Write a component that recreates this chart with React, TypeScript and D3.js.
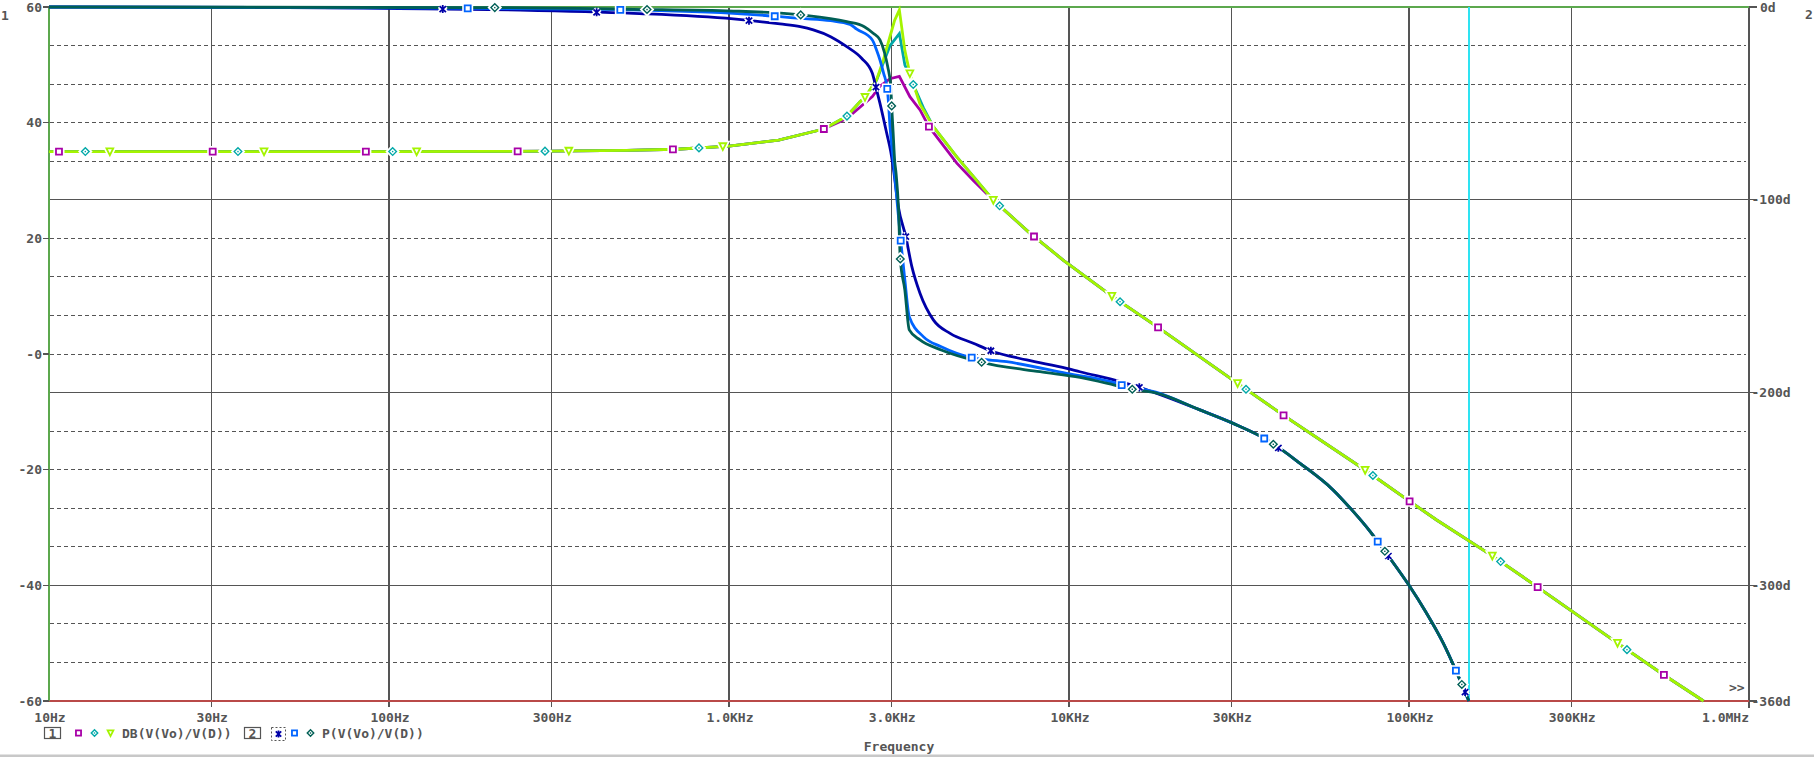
import React from 'react';
import * as d3 from 'd3';

type Pt = [number, number];

// ---------- axis ticks ----------
const freqTicks = [10, 30, 100, 300, 1e3, 3e3, 1e4, 3e4, 1e5, 3e5, 1e6];
const freqTickLabels = ['10Hz', '30Hz', '100Hz', '300Hz', '1.0KHz', '3.0KHz', '10KHz', '30KHz', '100KHz', '300KHz', '1.0MHz'];
const dbTicks = [60, 40, 20, 0, -20, -40, -60];
const dbTickLabels = ['60', '40', '20', '-0', '-20', '-40', '-60'];
const phaseTicks = [0, -100, -200, -300, -360];
const phaseTickLabels = ['0d', '-100d', '-200d', '-300d', '-360d'];
const phaseSolidGrid = [-100, -200, -300];
const phaseDashedGrid = [-20, -40, -60, -80, -120, -140, -160, -180, -220, -240, -260, -280, -320, -340];
const cursorFreq = 150000;

// ---------- DB traces (left axis) ----------
const dbLow: Pt[] = [[10, 35.0], [100, 35.0], [200, 35.03], [300, 35.08], [500, 35.2], [700, 35.4], [1000, 35.95], [1400, 37.0], [1900, 38.9]];
const dbPeakMagenta: Pt[] = [[2220, 40.7], [2375, 42.2], [2640, 44.5], [2780, 46.3], [2975, 47.6], [3170, 48.0], [3404, 44.5], [3646, 42.2], [3873, 39.3], [4677, 33.0], [5230, 30.0]];
const dbPeakCyan: Pt[] = [[2220, 41.1], [2427, 43.6], [2512, 44.4], [2716, 47.3], [2843, 50.3], [2975, 53.3], [3170, 55.4], [3290, 50.0], [3483, 46.6], [3728, 42.6], [3990, 39.3], [4677, 34.1], [5230, 30.7]];
const dbPeakGreen: Pt[] = [[2220, 41.1], [2427, 43.6], [2512, 44.4], [2716, 47.4], [2843, 50.8], [2975, 54.9], [3070, 57.7], [3170, 59.5], [3290, 52.5], [3404, 48.5], [3646, 43.2], [3990, 39.3], [4677, 34.1], [5230, 30.7]];
const dbHigh: Pt[] = [[5990, 26.6], [7670, 20.9], [9610, 16.25], [13370, 10.0], [18280, 4.6], [31320, -5.07], [42760, -10.6], [74300, -20.06], [100000, -25.4], [120600, -28.7], [175800, -34.9], [227000, -39.4], [410500, -50.0], [562000, -55.5], [735000, -60.0]];

// ---------- Phase traces (right axis) ----------
const phDarkBlue: Pt[] = [[10, 0], [50, -0.3], [107, -0.8], [243, -1.6], [524, -3.3], [1030, -6.2], [1413, -8.8], [1620, -10.2], [1770, -11.9], [1990, -15.4], [2220, -20.6], [2455, -26.6], [2640, -34.4], [2705, -41.6], [2780, -50], [2910, -65.5], [2990, -75], [3040, -83], [3148, -103.6], [3311, -119.1], [3450, -134.7], [3645, -148.5], [3990, -162.3], [4470, -169.3], [5230, -174.4], [5890, -178.3], [7510, -183.1], [9840, -187.4], [10770, -189.2], [14130, -194.3], [16100, -197.3]];
const phBlue: Pt[] = [[10, 0], [97, -0.4], [417, -1.2], [1030, -3.3], [1413, -5.0], [1620, -5.9], [1990, -7.1], [2270, -9.0], [2375, -11.5], [2640, -17.1], [2716, -22.3], [2780, -27.5], [2850, -34.4], [2921, -42.5], [2941, -48.2], [2975, -62], [3040, -79], [3100, -95], [3199, -121.2], [3290, -141.6], [3390, -160.6], [3728, -171], [4210, -176.2], [5175, -181.9], [6555, -184], [9840, -190], [13800, -195.2], [14290, -196.1], [18000, -199.8]];
const phTeal: Pt[] = [[10, 0], [200, -0.3], [524, -1.2], [1030, -2.1], [1625, -4.1], [2220, -7.6], [2500, -10.2], [2655, -13.6], [2780, -17.1], [2870, -24], [2930, -31], [2990, -41.3], [3009, -51.3], [3040, -65.5], [3070, -79.4], [3100, -86.3], [3150, -103.6], [3190, -130.7], [3290, -146.8], [3390, -167.5], [3645, -172.7], [4210, -177.9], [5533, -184.3], [8220, -189.2], [10770, -192.1], [13600, -196.1], [15350, -198.3], [18000, -200.2]];
const phTail: Pt[] = [[24270, -209], [30400, -216], [38300, -224.6], [47800, -236.7], [59800, -250.5], [67600, -260.5], [76800, -272], [87100, -285], [100000, -300], [112200, -314], [126100, -330], [138000, -345], [150000, -360]];

// ---------- marker frequencies ----------
const mkMagenta = [10.7, 30.3, 85.5, 239, 684, 1901, 3873, 7890, 18280, 42760, 100400, 239000, 562000];
const mkCyan = [12.79, 35.96, 102.5, 287.6, 816, 2223, 3483, 6250, 14130, 33160, 78300, 186000, 437600];
const mkGreen = [15.1, 42.9, 120.6, 338, 959, 2512, 3404, 5990, 13370, 31320, 74300, 175800, 410500];
const mkDarkBlue = [143.9, 408, 1145, 2705, 3311, 5890, 16100, 41270, 86900, 146200];
const mkBlue = [170.4, 479, 1363, 2921, 3199, 5174, 14290, 37520, 80900, 137400];
const mkTeal = [204.7, 574, 1625, 3009, 3190, 5533, 15350, 39900, 84900, 143000];

// ---------- styles ----------
const W = 1814;
const H = 757;
const FONT = "'DejaVu Sans Mono', monospace";
const TXT = '#555555';
const GRID = '#555555';
const C_MAG = '#a800a8';
const C_CYAN = '#00a8a8';
const C_GREEN = '#a4f400';
const C_DBLUE = '#0000a8';
const C_BLUE = '#0064ff';
const C_TEAL = '#005f55';

const x = d3.scaleLog().domain([10, 1e6]).range([49, 1749]);
const yDb = d3.scaleLinear().domain([-60, 60]).range([701, 7]);
const yPh = d3.scaleLinear().domain([-360, 0]).range([701, 7]);

function valueAt(data: Pt[], f: number): number {
  const lf = Math.log10(f);
  for (let i = 0; i < data.length - 1; i++) {
    const a = Math.log10(data[i][0]);
    const b = Math.log10(data[i + 1][0]);
    if (lf >= a && lf <= b) {
      const t = (lf - a) / (b - a);
      return data[i][1] + t * (data[i + 1][1] - data[i][1]);
    }
  }
  return lf < Math.log10(data[0][0]) ? data[0][1] : data[data.length - 1][1];
}

type Kind = 'square' | 'diamond' | 'tri' | 'star';

function markerPath(kind: Kind, s: number): string {
  if (kind === 'square') return `M${-3 * s},${-3 * s}H${3 * s}V${3 * s}H${-3 * s}Z`;
  if (kind === 'diamond') return `M0,${-3.8 * s}L${3.8 * s},0L0,${3.8 * s}L${-3.8 * s},0Z`;
  if (kind === 'tri') return `M${-3.4 * s},${-3.2 * s}L${3.4 * s},${-3.2 * s}L0,${3.6 * s}Z`;
  return `M0,${-4 * s}V${4 * s}M${-3.2 * s},${-3 * s}L${3.2 * s},${3 * s}M${3.2 * s},${-3 * s}L${-3.2 * s},${3 * s}`;
}

function Marker({ kind, cx, cy, color, s = 1 }: { kind: Kind; cx: number; cy: number; color: string; s?: number }) {
  const d = markerPath(kind, s);
  const sw = kind === 'diamond' ? 1.4 : 1.8;
  return (
    <g transform={`translate(${cx},${cy})`}>
      <path d={d} fill="white" stroke="white" strokeWidth={5} />
      <path d={d} fill={kind === 'star' ? 'none' : 'white'} stroke={color} strokeWidth={sw} />
      {kind === 'diamond' && <rect x={-0.7} y={-0.7} width={1.4} height={1.4} fill={color} />}
    </g>
  );
}

interface Trace { data: Pt[]; color: string; kind: Kind; markers: number[]; axis: 'db' | 'ph' }

const traces: Trace[] = [
  { data: [...dbLow, ...dbPeakMagenta, ...dbHigh], color: C_MAG, kind: 'square', markers: mkMagenta, axis: 'db' },
  { data: [...dbLow, ...dbPeakCyan, ...dbHigh], color: C_CYAN, kind: 'diamond', markers: mkCyan, axis: 'db' },
  { data: [...dbLow, ...dbPeakGreen, ...dbHigh], color: C_GREEN, kind: 'tri', markers: mkGreen, axis: 'db' },
  { data: [...phDarkBlue, ...phTail], color: C_DBLUE, kind: 'star', markers: mkDarkBlue, axis: 'ph' },
  { data: [...phBlue, ...phTail], color: C_BLUE, kind: 'square', markers: mkBlue, axis: 'ph' },
  { data: [...phTeal, ...phTail], color: C_TEAL, kind: 'diamond', markers: mkTeal, axis: 'ph' },
];

export default function App() {
  const textStyle = { fontFamily: FONT, fontWeight: 700 as const, fontSize: 13, fill: TXT };
  return (
    <svg width={W} height={H} viewBox={`0 0 ${W} ${H}`} style={{ position: 'absolute', left: 0, top: 0, display: 'block', background: 'white' }}>
      <rect x={0} y={0} width={W} height={H} fill="white" />
      {/* horizontal grid */}
      {phaseDashedGrid.map((v) => (
        <line key={'hd' + v} x1={50} x2={1746} y1={yPh(v)} y2={yPh(v)} stroke={GRID} strokeWidth={1} strokeDasharray="4,3" shapeRendering="crispEdges" />
      ))}
      {phaseSolidGrid.map((v) => (
        <line key={'hs' + v} x1={49} x2={1749} y1={yPh(v)} y2={yPh(v)} stroke={GRID} strokeWidth={1.3} shapeRendering="crispEdges" />
      ))}
      {/* vertical grid */}
      {freqTicks.slice(1, -1).map((f) => (
        <line key={'v' + f} x1={x(f)} x2={x(f)} y1={8} y2={707} stroke={GRID} strokeWidth={1.3} shapeRendering="crispEdges" />
      ))}
      {/* axes */}
      <line x1={1749} x2={1749} y1={7} y2={708} stroke={GRID} strokeWidth={1.3} shapeRendering="crispEdges" />
      <line x1={49} x2={1749} y1={701} y2={701} stroke="#b94a48" strokeWidth={1.5} shapeRendering="crispEdges" />
      <line x1={49} x2={1749} y1={7} y2={7} stroke="#5ca84e" strokeWidth={1.5} shapeRendering="crispEdges" />
      <line x1={49} x2={49} y1={7} y2={701} stroke="#5ca84e" strokeWidth={1.5} shapeRendering="crispEdges" />
      {/* cursor */}
      <line x1={x(cursorFreq)} x2={x(cursorFreq)} y1={7} y2={701} stroke="#2ee3f2" strokeWidth={1.3} shapeRendering="crispEdges" />

      {/* left axis ticks & labels */}
      {dbTicks.map((v, i) => (
        <g key={'lt' + v}>
          <line x1={43} x2={49} y1={yDb(v)} y2={yDb(v)} stroke={GRID} strokeWidth={1.3} shapeRendering="crispEdges" />
          <text x={42} y={yDb(v) + 4.6} textAnchor="end" style={textStyle}>{dbTickLabels[i]}</text>
        </g>
      ))}
      {/* right axis ticks & labels */}
      {phaseTicks.map((v, i) => (
        <g key={'rt' + v}>
          <line x1={1749} x2={1757} y1={yPh(v)} y2={yPh(v)} stroke={GRID} strokeWidth={1.3} shapeRendering="crispEdges" />
          <text x={phaseTickLabels[i].startsWith('-') ? 1751.5 : 1760} y={yPh(v) + 4.6} textAnchor="start" style={textStyle}>{phaseTickLabels[i]}</text>
        </g>
      ))}
      {/* x tick labels */}
      {freqTicks.map((f, i) => (
        <text key={'xt' + f} x={i === freqTicks.length - 1 ? 1749 : x(f) + 1} y={722} textAnchor={i === freqTicks.length - 1 ? 'end' : 'middle'} style={textStyle}>{freqTickLabels[i]}</text>
      ))}
      <text x={899} y={751} textAnchor="middle" style={textStyle}>Frequency</text>
      <text x={5} y={20} textAnchor="middle" style={textStyle}>1</text>
      <text x={1809} y={19} textAnchor="middle" style={textStyle}>2</text>
      <text x={1729} y={692} style={textStyle}>{'>>'}</text>

      {/* traces */}
      {traces.map((t, i) => {
        const y = t.axis === 'db' ? yDb : yPh;
        const gen = d3.line<Pt>().x((d) => x(d[0])).y((d) => y(d[1]))
          .curve(t.axis === 'ph' ? d3.curveMonotoneX : d3.curveLinear);
        return <path key={'tr' + i} d={gen(t.data) || ''} fill="none" stroke={t.color} strokeWidth={2.8} strokeLinejoin="miter" strokeMiterlimit={10} />;
      })}
      {/* markers */}
      {traces.map((t, i) => {
        const y = t.axis === 'db' ? yDb : yPh;
        return (
          <g key={'mk' + i}>
            {t.markers.map((f) => (
              <Marker key={f} kind={t.kind} cx={x(f)} cy={y(valueAt(t.data, f))} color={t.color} />
            ))}
          </g>
        );
      })}

      {/* legend */}
      <rect x={44.5} y={727.5} width={16} height={11} fill="none" stroke={TXT} strokeWidth={1.2} />
      <text x={52.5} y={737.5} textAnchor="middle" style={textStyle}>1</text>
      <Marker kind="square" cx={78.5} cy={733} color={C_MAG} s={0.85} />
      <Marker kind="diamond" cx={94.5} cy={733} color={C_CYAN} s={0.85} />
      <Marker kind="tri" cx={110.5} cy={733} color={C_GREEN} s={0.85} />
      <text x={122} y={738} style={textStyle}>DB(V(Vo)/V(D))</text>
      <rect x={244.5} y={727.5} width={16} height={11} fill="none" stroke={TXT} strokeWidth={1.2} />
      <text x={252.5} y={737.5} textAnchor="middle" style={textStyle}>2</text>
      <rect x={271.5} y={727.5} width={14} height={13} fill="none" stroke={TXT} strokeWidth={1} strokeDasharray="2,2" />
      <Marker kind="star" cx={278.5} cy={734} color={C_DBLUE} s={0.85} />
      <Marker kind="square" cx={294.5} cy={733} color={C_BLUE} s={0.85} />
      <Marker kind="diamond" cx={310.5} cy={733} color={C_TEAL} s={0.85} />
      <text x={322} y={738} style={textStyle}>P(V(Vo)/V(D))</text>

      <rect x={0} y={754.5} width={W} height={2.5} fill="#c8c8c8" />
    </svg>
  );
}
